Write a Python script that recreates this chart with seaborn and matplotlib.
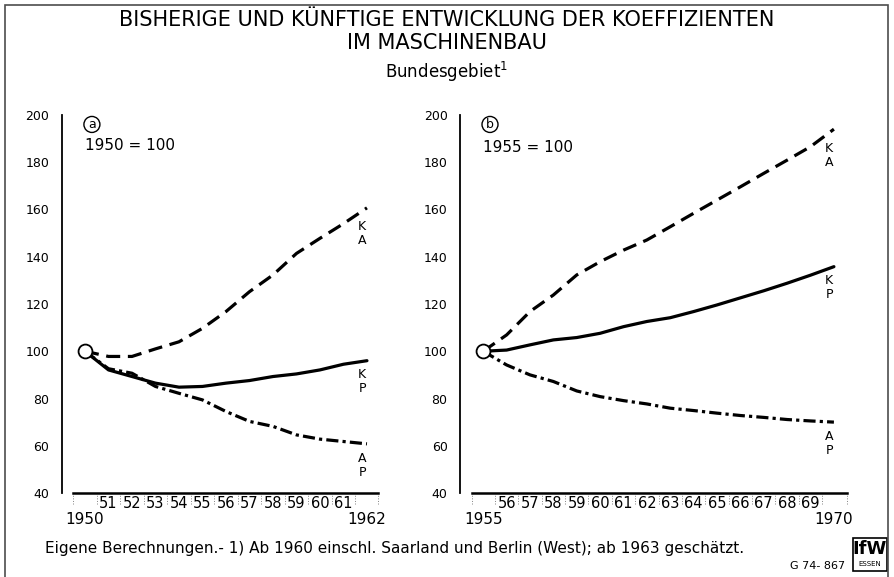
import numpy as np
import pandas as pd
import seaborn as sns
import matplotlib.pyplot as plt
from matplotlib.patches import Rectangle

# panel a: 1950 = 100
years_a = list(range(1950, 1963))
ka_a = [100, 97.8, 97.8, 101.0, 104.0, 109.7, 116.8, 125.2, 132.3, 141.4, 147.8, 154.0, 160.7]
kp_a = [100, 92.1, 89.3, 86.5, 84.8, 85.1, 86.5, 87.6, 89.3, 90.4, 92.1, 94.5, 96.0]
ap_a = [100, 92.6, 90.7, 85.1, 82.2, 79.4, 74.5, 70.3, 68.2, 64.6, 62.8, 61.8, 60.8]

# panel b: 1955 = 100
years_b = list(range(1955, 1971))
ka_b = [100, 106.9, 116.8, 123.8, 132.3, 137.9, 142.8, 147.1, 152.7, 158.4, 164.0, 169.6, 175.3, 180.9, 186.6, 194.0]
kp_b = [100, 100.5, 102.7, 104.8, 105.8, 107.6, 110.4, 112.6, 114.2, 116.8, 119.6, 122.6, 125.6, 128.8, 132.2, 135.8]
ap_b = [100, 94.2, 90.0, 87.2, 83.2, 80.8, 79.1, 77.7, 75.9, 74.9, 73.8, 72.8, 72.0, 71.1, 70.5, 70.0]

series_names = ['KA', 'KP', 'AP']
end_labels = {'KA': 'K\nA', 'KP': 'K\nP', 'AP': 'A\nP'}
y_ticks = list(range(40, 201, 20))

sns.set_style('white')
plt.rcParams['font.family'] = ['DejaVu Sans']
plt.rcParams['text.color'] = 'black'
plt.rcParams['xtick.color'] = 'black'
plt.rcParams['ytick.color'] = 'black'

W, H = 894, 577
fig = plt.figure(figsize=(W / 100, H / 100), dpi=100)


def px_axes(x0, x1, y0, y1):
    return fig.add_axes([x0 / W, 1 - y1 / H, (x1 - x0) / W, (y1 - y0) / H])


def draw_panel(ax, years, ka, kp, ap, xlim, letter, spine_out, letter_pos, base_pos):
    n = len(years)
    df = pd.DataFrame({
        'year': years * 3,
        'value': ka + kp + ap,
        'series': [s for s in series_names for _ in range(n)],
    })
    sns.lineplot(data=df, x='year', y='value', style='series',
                 dashes={'KA': (4.4, 2.4), 'KP': '', 'AP': (3.8, 1.3, 1.0, 1.3)},
                 color='black', linewidth=2.3, legend=False, ax=ax)
    ax.plot([years[0]], [100], marker='o', ms=10, mfc='white', mec='black', mew=1.3, zorder=5)

    for name, vals in zip(series_names, [ka, kp, ap]):
        off = 11 if name == 'KA' else 9
        ax.text(years[-1] - 0.2, vals[-1] - off, end_labels[name], ha='center', va='center',
                fontsize=9, linespacing=1.1)

    ax.set_xlim(*xlim)
    ax.set_ylim(40, 200)
    ax.set_yticks(y_ticks)
    ax.set_yticklabels([str(v) for v in y_ticks])
    ax.tick_params(axis='y', length=4, width=0.6, color='0.45', labelsize=9, pad=5)

    ax.set_xticks([years[0], years[-1]], labels=[str(years[0]), str(years[-1])])
    ax.set_xticks(years[1:-1], labels=[str(y)[2:] for y in years[1:-1]], minor=True)
    ax.tick_params(axis='x', which='major', length=0, labelsize=11, pad=14)
    ax.tick_params(axis='x', which='minor', length=0, labelsize=10.5, pad=2)

    seps = [years[1] - 0.5 + i for i in range(n - 2)] + [years[-2] + 0.5]
    ax.vlines(seps, -0.03, -0.004, transform=ax.get_xaxis_transform(), colors='0.5',
              linestyles=':', linewidth=0.7, clip_on=False)
    ax.vlines([xlim[0], xlim[1]], -0.03, 0, transform=ax.get_xaxis_transform(), colors='0.5',
              linestyles=':', linewidth=0.7, clip_on=False)

    for side in ['top', 'right']:
        ax.spines[side].set_visible(False)
    ax.spines['left'].set_position(('outward', spine_out))
    ax.spines['left'].set_linewidth(1.3)
    ax.spines['bottom'].set_linewidth(1.8)
    for s in ['left', 'bottom']:
        ax.spines[s].set_color('black')
    ax.set_xlabel('')
    ax.set_ylabel('')

    ax.text(*letter_pos, letter, transform=ax.transAxes, ha='center', va='center', fontsize=9,
            bbox=dict(boxstyle='circle,pad=0.12', fc='white', ec='black', lw=1))
    ax.text(*base_pos, f'{years[0]} = 100', transform=ax.transAxes, ha='left', va='center',
            fontsize=11)


ax_a = px_axes(73, 378, 115, 493)
ax_b = px_axes(472, 847, 115, 493)
draw_panel(ax_a, years_a, ka_a, kp_a, ap_a, (1949.49, 1962.47), 'a', 8,
           (0.062, 0.975), (0.039, 0.92))
draw_panel(ax_b, years_b, ka_b, kp_b, ap_b, (1954.52, 1970.56), 'b', 8.6,
           (0.048, 0.975), (0.029, 0.913))

fig.text(447 / W, 1 - 20 / H, 'BISHERIGE UND KÜNFTIGE ENTWICKLUNG DER KOEFFIZIENTEN',
         ha='center', va='center', fontsize=15)
fig.text(447 / W, 1 - 43 / H, 'IM MASCHINENBAU', ha='center', va='center', fontsize=15)
fig.text(447 / W, 1 - 72 / H, 'Bundesgebiet$^{1}$', ha='center', va='center', fontsize=12)

fig.text(45 / W, 1 - 549 / H,
         'Eigene Berechnungen.- 1) Ab 1960 einschl. Saarland und Berlin (West); ab 1963 geschätzt.',
         ha='left', va='center', fontsize=11)
fig.text(845 / W, 1 - 566 / H, 'G 74- 867', ha='right', va='center', fontsize=8)

# IfW logo box
fig.patches.append(Rectangle((853 / W, 1 - 571 / H), 34 / W, 33 / H, transform=fig.transFigure,
                             fill=False, ec='black', lw=1.2))
fig.text(870 / W, 1 - 549 / H, 'IfW', ha='center', va='center', fontsize=13, fontweight='bold')
fig.text(870 / W, 1 - 564 / H, 'ESSEN', ha='center', va='center', fontsize=5)

# outer frame
fig.patches.append(Rectangle((5 / W, -0.05), 883 / W, 1.05 - 5 / H, transform=fig.transFigure,
                             fill=False, ec='0.3', lw=1.2))

fig.savefig('out.png', dpi=100)
